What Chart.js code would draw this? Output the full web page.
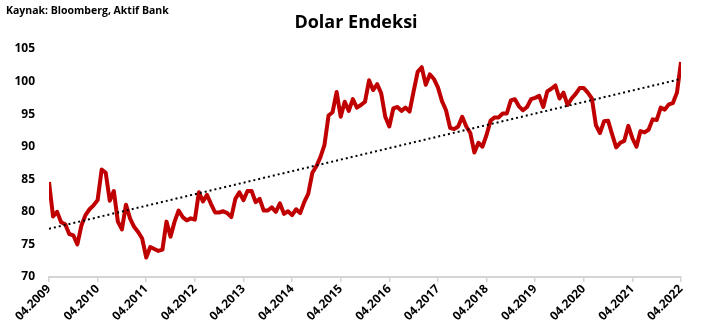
<!DOCTYPE html>
<html>
<head>
<meta charset="utf-8">
<script src="https://cdn.jsdelivr.net/npm/chart.js"></script>
<style>
  body { margin: 0; background: #fff; }
  #wrap { position: relative; width: 712px; height: 336px; }
  #kaynak { position: absolute; left: 6px; top: 3px; font: bold 10.5px "Open Sans", sans-serif; color: #000; }
  #baslik { position: absolute; left: 0; width: 712px; top: 9px; text-align: center; font: bold 18px "Open Sans", sans-serif; color: #000; }
</style>
</head>
<body>
<div id="wrap">
  <canvas id="dxy-chart" width="712" height="336"></canvas>
  <div id="kaynak">Kaynak: Bloomberg, Aktif Bank</div>
  <div id="baslik">Dolar Endeksi</div>
</div>
<script>
// etiketler (her nisan)
var tickLabels = ['04.2009', '04.2010', '04.2011', '04.2012', '04.2013', '04.2014', '04.2015',
                  '04.2016', '04.2017', '04.2018', '04.2019', '04.2020', '04.2021', '04.2022'];

// aylik dolar endeksi, 04.2009 - 04.2022
var dxy2009 = [84.6, 79.3, 80.0, 78.4, 78.1, 76.6, 76.4, 75.0, 77.9];
var dxy2010 = [79.5, 80.4, 81.0, 81.8, 86.5, 86.0, 81.7, 83.2, 78.5, 77.3, 81.1, 79.0];
var dxy2011 = [77.7, 76.9, 75.9, 73.0, 74.6, 74.3, 74.0, 74.2, 78.5, 76.2, 78.5, 80.2];
var dxy2012 = [79.2, 78.7, 79.0, 78.8, 83.0, 81.6, 82.6, 81.2, 79.9, 79.9, 80.1, 79.8];
var dxy2013 = [79.2, 82.0, 83.0, 81.8, 83.2, 83.2, 81.5, 82.0, 80.2, 80.2, 80.7, 80.0];
var dxy2014 = [81.3, 79.7, 80.1, 79.5, 80.4, 79.8, 81.5, 82.8, 86.0, 87.0, 88.4, 90.3];
var dxy2015 = [94.8, 95.3, 98.4, 94.6, 96.9, 95.5, 97.3, 96.0, 96.4, 96.9, 100.2, 98.7];
var dxy2016 = [99.6, 98.2, 94.6, 93.1, 95.9, 96.1, 95.5, 96.0, 95.4, 98.5, 101.5, 102.2];
var dxy2017 = [99.5, 101.1, 100.4, 99.1, 97.0, 95.6, 92.9, 92.7, 93.1, 94.6, 93.1, 92.1];
var dxy2018 = [89.1, 90.6, 90.0, 91.8, 94.0, 94.5, 94.5, 95.1, 95.1, 97.1, 97.3, 96.2];
var dxy2019 = [95.6, 96.1, 97.3, 97.5, 97.8, 96.1, 98.5, 98.9, 99.4, 97.4, 98.3, 96.4];
var dxy2020 = [97.4, 98.1, 99.0, 99.0, 98.3, 97.4, 93.3, 92.1, 93.9, 94.0, 91.9, 89.9];
var dxy2021 = [90.6, 90.9, 93.2, 91.3, 90.0, 92.4, 92.2, 92.6, 94.2, 94.1, 96.0, 95.7];
var dxy2022 = [96.5, 96.7, 98.3, 103.0];

// trend cizgisinin uclari
var trendStart = 77.4;
var trendEnd = 100.4;

var dxy = [].concat(dxy2009, dxy2010, dxy2011, dxy2012, dxy2013, dxy2014, dxy2015,
                    dxy2016, dxy2017, dxy2018, dxy2019, dxy2020, dxy2021, dxy2022);
var lastIndex = dxy.length - 1;

var dxyPoints = dxy.map(function(v, i) { return {x: i, y: v}; });
var trendPoints = [{x: 0, y: trendStart}, {x: lastIndex, y: trendEnd}];

var fontName = '"Open Sans", sans-serif';

var ctx = document.getElementById('dxy-chart').getContext('2d');
var dxyChart = new Chart(ctx, {
    type: 'line',
    data: {
        datasets: [{
            label: 'Trend',
            data: trendPoints,
            borderColor: '#000',
            borderWidth: 2,
            borderDash: [2, 3],
            pointRadius: 0,
            fill: false
        }, {
            label: 'Dolar Endeksi',
            data: dxyPoints,
            borderColor: '#C00000',
            borderWidth: 4,
            borderJoinStyle: 'round',
            pointRadius: 0,
            tension: 0,
            fill: false
        }]
    },
    options: {
        responsive: false,
        animation: false,
        layout: { padding: { top: 49, right: 31, bottom: 9, left: 0 } },
        plugins: {
            legend: { display: false },
            tooltip: { enabled: false }
        },
        scales: {
            x: {
                type: 'linear',
                min: 0,
                max: lastIndex,
                afterFit: function(scale) { scale.height = 50; },
                border: { display: true, color: '#d4d4d4', width: 2 },
                grid: { drawOnChartArea: false, drawTicks: true, tickLength: 5, color: '#d4d4d4', lineWidth: 1.5 },
                ticks: {
                    stepSize: 12,
                    autoSkip: false,
                    maxRotation: 45,
                    minRotation: 45,
                    padding: 0,
                    color: '#000',
                    font: { family: fontName, size: 12, weight: 'bold' },
                    callback: function(v) { return tickLabels[v / 12]; }
                }
            },
            y: {
                min: 70,
                max: 105,
                afterFit: function(scale) { scale.width = 49; },
                border: { display: false },
                grid: { display: false },
                ticks: {
                    stepSize: 5,
                    padding: 6,
                    color: '#000',
                    font: { family: fontName, size: 12, weight: 'bold' }
                }
            }
        }
    }
});
</script>
</body>
</html>
